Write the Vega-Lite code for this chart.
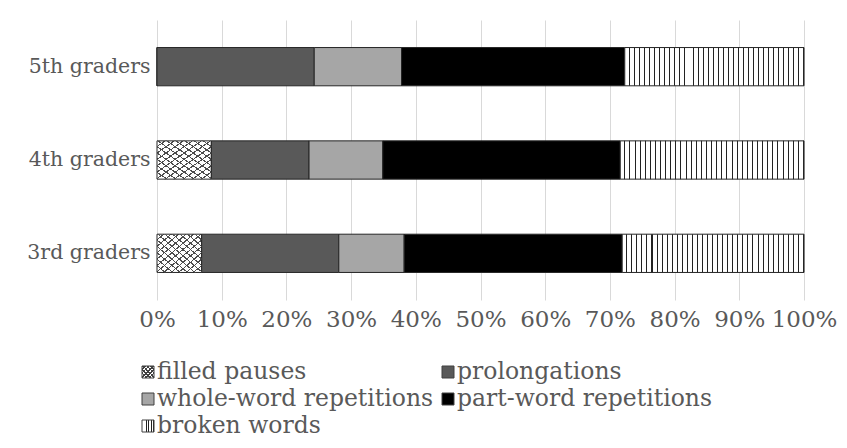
{
  "$schema": "https://vega.github.io/schema/vega-lite/v6.json",
  "autosize": {"type": "none"},
  "width": 647,
  "height": 280,
  "padding": {"left": 157, "top": 20, "right": 43, "bottom": 148},
  "background": "white",
  "config": {"view": {"stroke": null}, "font": "DejaVu Serif"},
  "datasets": {
    "bars": [
      {"grade": "3rd graders", "cat": "filled pauses", "o": 1, "value": 6.9},
      {"grade": "3rd graders", "cat": "prolongations", "o": 2, "value": 21.2},
      {"grade": "3rd graders", "cat": "whole-word repetitions", "o": 3, "value": 10.1},
      {"grade": "3rd graders", "cat": "part-word repetitions", "o": 4, "value": 33.7},
      {"grade": "3rd graders", "cat": "broken words", "o": 5, "value": 28.1},
      {"grade": "4th graders", "cat": "filled pauses", "o": 1, "value": 8.4},
      {"grade": "4th graders", "cat": "prolongations", "o": 2, "value": 15.1},
      {"grade": "4th graders", "cat": "whole-word repetitions", "o": 3, "value": 11.4},
      {"grade": "4th graders", "cat": "part-word repetitions", "o": 4, "value": 36.7},
      {"grade": "4th graders", "cat": "broken words", "o": 5, "value": 28.4},
      {"grade": "5th graders", "cat": "filled pauses", "o": 1, "value": 0},
      {"grade": "5th graders", "cat": "prolongations", "o": 2, "value": 24.3},
      {"grade": "5th graders", "cat": "whole-word repetitions", "o": 3, "value": 13.5},
      {"grade": "5th graders", "cat": "part-word repetitions", "o": 4, "value": 34.5},
      {"grade": "5th graders", "cat": "broken words", "o": 5, "value": 27.7}
    ],
    "legend": [
      {"cat": "filled pauses", "col": 0, "row": 0},
      {"cat": "prolongations", "col": 1, "row": 0},
      {"cat": "whole-word repetitions", "col": 0, "row": 1},
      {"cat": "part-word repetitions", "col": 1, "row": 1},
      {"cat": "broken words", "col": 0, "row": 2}
    ]
  },
  "resolve": {"scale": {"x": "independent", "y": "independent"}},
  "layer": [
    {
      "data": {"name": "bars"},
      "mark": {"type": "bar", "stroke": "#262626", "strokeWidth": 1},
      "encoding": {
        "y": {"field": "grade", "type": "nominal", "sort": ["5th graders", "4th graders", "3rd graders"],
          "scale": {"domain": ["5th graders", "4th graders", "3rd graders"], "paddingInner": 0.59, "paddingOuter": 0.295},
          "axis": {"title": null, "domain": false, "ticks": false, "grid": false, "labelFontSize": 20.5, "labelColor": "#595959", "labelPadding": 7, "labelFont": "DejaVu Serif"}},
        "x": {"field": "value", "type": "quantitative", "stack": "zero",
          "scale": {"domain": [0, 100], "nice": false},
          "axis": {"title": null, "values": [0, 10, 20, 30, 40, 50, 60, 70, 80, 90, 100], "labelExpr": "datum.value + '%'", "domain": false, "ticks": false, "grid": true, "gridColor": "#d9d9d9", "gridWidth": 1, "labelFontSize": 23, "labelColor": "#595959", "labelPadding": 8, "labelFlush": false, "labelOverlap": false, "labelFont": "DejaVu Serif"}},
        "order": {"field": "o", "type": "quantitative"},
        "fill": {
          "condition": [
            {"test": "datum.cat === 'filled pauses'", "value": {"gradient": "linear", "x1": 0, "y1": 0, "x2": 1, "y2": 1, "stops": [
              {"offset": 0, "color": "#ffffff"}, {"offset": 0.0667, "color": "#ffffff"}, {"offset": 0.0667, "color": "#4d4d4d"}, {"offset": 0.0833, "color": "#4d4d4d"},
              {"offset": 0.0833, "color": "#ffffff"}, {"offset": 0.15, "color": "#ffffff"}, {"offset": 0.15, "color": "#4d4d4d"}, {"offset": 0.1667, "color": "#4d4d4d"},
              {"offset": 0.1667, "color": "#ffffff"}, {"offset": 0.2333, "color": "#ffffff"}, {"offset": 0.2333, "color": "#4d4d4d"}, {"offset": 0.25, "color": "#4d4d4d"},
              {"offset": 0.25, "color": "#ffffff"}, {"offset": 0.3167, "color": "#ffffff"}, {"offset": 0.3167, "color": "#4d4d4d"}, {"offset": 0.3333, "color": "#4d4d4d"},
              {"offset": 0.3333, "color": "#ffffff"}, {"offset": 0.4, "color": "#ffffff"}, {"offset": 0.4, "color": "#4d4d4d"}, {"offset": 0.4167, "color": "#4d4d4d"},
              {"offset": 0.4167, "color": "#ffffff"}, {"offset": 0.4833, "color": "#ffffff"}, {"offset": 0.4833, "color": "#4d4d4d"}, {"offset": 0.5, "color": "#4d4d4d"},
              {"offset": 0.5, "color": "#ffffff"}, {"offset": 0.5667, "color": "#ffffff"}, {"offset": 0.5667, "color": "#4d4d4d"}, {"offset": 0.5833, "color": "#4d4d4d"},
              {"offset": 0.5833, "color": "#ffffff"}, {"offset": 0.65, "color": "#ffffff"}, {"offset": 0.65, "color": "#4d4d4d"}, {"offset": 0.6667, "color": "#4d4d4d"},
              {"offset": 0.6667, "color": "#ffffff"}, {"offset": 0.7333, "color": "#ffffff"}, {"offset": 0.7333, "color": "#4d4d4d"}, {"offset": 0.75, "color": "#4d4d4d"},
              {"offset": 0.75, "color": "#ffffff"}, {"offset": 0.8167, "color": "#ffffff"}, {"offset": 0.8167, "color": "#4d4d4d"}, {"offset": 0.8333, "color": "#4d4d4d"},
              {"offset": 0.8333, "color": "#ffffff"}, {"offset": 0.9, "color": "#ffffff"}, {"offset": 0.9, "color": "#4d4d4d"}, {"offset": 0.9167, "color": "#4d4d4d"},
              {"offset": 0.9167, "color": "#ffffff"}, {"offset": 0.9833, "color": "#ffffff"}, {"offset": 0.9833, "color": "#4d4d4d"}, {"offset": 1, "color": "#4d4d4d"}
            ]}},
            {"test": "datum.cat === 'broken words'", "value": {"gradient": "linear", "x1": 0, "y1": 0, "x2": 1, "y2": 0, "stops": [
              {"offset": 0, "color": "#ffffff"}, {"offset": 0.0222, "color": "#ffffff"}, {"offset": 0.0222, "color": "#222222"}, {"offset": 0.0278, "color": "#222222"},
              {"offset": 0.0278, "color": "#ffffff"}, {"offset": 0.05, "color": "#ffffff"}, {"offset": 0.05, "color": "#222222"}, {"offset": 0.0556, "color": "#222222"},
              {"offset": 0.0556, "color": "#ffffff"}, {"offset": 0.0778, "color": "#ffffff"}, {"offset": 0.0778, "color": "#222222"}, {"offset": 0.0833, "color": "#222222"},
              {"offset": 0.0833, "color": "#ffffff"}, {"offset": 0.1056, "color": "#ffffff"}, {"offset": 0.1056, "color": "#222222"}, {"offset": 0.1111, "color": "#222222"},
              {"offset": 0.1111, "color": "#ffffff"}, {"offset": 0.1333, "color": "#ffffff"}, {"offset": 0.1333, "color": "#222222"}, {"offset": 0.1389, "color": "#222222"},
              {"offset": 0.1389, "color": "#ffffff"}, {"offset": 0.1611, "color": "#ffffff"}, {"offset": 0.1611, "color": "#222222"}, {"offset": 0.1667, "color": "#222222"},
              {"offset": 0.1667, "color": "#ffffff"}, {"offset": 0.1889, "color": "#ffffff"}, {"offset": 0.1889, "color": "#222222"}, {"offset": 0.1944, "color": "#222222"},
              {"offset": 0.1944, "color": "#ffffff"}, {"offset": 0.2167, "color": "#ffffff"}, {"offset": 0.2167, "color": "#222222"}, {"offset": 0.2222, "color": "#222222"},
              {"offset": 0.2222, "color": "#ffffff"}, {"offset": 0.2444, "color": "#ffffff"}, {"offset": 0.2444, "color": "#222222"}, {"offset": 0.25, "color": "#222222"},
              {"offset": 0.25, "color": "#ffffff"}, {"offset": 0.2722, "color": "#ffffff"}, {"offset": 0.2722, "color": "#222222"}, {"offset": 0.2778, "color": "#222222"},
              {"offset": 0.2778, "color": "#ffffff"}, {"offset": 0.3, "color": "#ffffff"}, {"offset": 0.3, "color": "#222222"}, {"offset": 0.3056, "color": "#222222"},
              {"offset": 0.3056, "color": "#ffffff"}, {"offset": 0.3278, "color": "#ffffff"}, {"offset": 0.3278, "color": "#222222"}, {"offset": 0.3333, "color": "#222222"},
              {"offset": 0.3333, "color": "#ffffff"}, {"offset": 0.3556, "color": "#ffffff"}, {"offset": 0.3556, "color": "#222222"}, {"offset": 0.3611, "color": "#222222"},
              {"offset": 0.3611, "color": "#ffffff"}, {"offset": 0.3833, "color": "#ffffff"}, {"offset": 0.3833, "color": "#222222"}, {"offset": 0.3889, "color": "#222222"},
              {"offset": 0.3889, "color": "#ffffff"}, {"offset": 0.4111, "color": "#ffffff"}, {"offset": 0.4111, "color": "#222222"}, {"offset": 0.4167, "color": "#222222"},
              {"offset": 0.4167, "color": "#ffffff"}, {"offset": 0.4389, "color": "#ffffff"}, {"offset": 0.4389, "color": "#222222"}, {"offset": 0.4444, "color": "#222222"},
              {"offset": 0.4444, "color": "#ffffff"}, {"offset": 0.4667, "color": "#ffffff"}, {"offset": 0.4667, "color": "#222222"}, {"offset": 0.4722, "color": "#222222"},
              {"offset": 0.4722, "color": "#ffffff"}, {"offset": 0.4944, "color": "#ffffff"}, {"offset": 0.4944, "color": "#222222"}, {"offset": 0.5, "color": "#222222"},
              {"offset": 0.5, "color": "#ffffff"}, {"offset": 0.5222, "color": "#ffffff"}, {"offset": 0.5222, "color": "#222222"}, {"offset": 0.5278, "color": "#222222"},
              {"offset": 0.5278, "color": "#ffffff"}, {"offset": 0.55, "color": "#ffffff"}, {"offset": 0.55, "color": "#222222"}, {"offset": 0.5556, "color": "#222222"},
              {"offset": 0.5556, "color": "#ffffff"}, {"offset": 0.5778, "color": "#ffffff"}, {"offset": 0.5778, "color": "#222222"}, {"offset": 0.5833, "color": "#222222"},
              {"offset": 0.5833, "color": "#ffffff"}, {"offset": 0.6056, "color": "#ffffff"}, {"offset": 0.6056, "color": "#222222"}, {"offset": 0.6111, "color": "#222222"},
              {"offset": 0.6111, "color": "#ffffff"}, {"offset": 0.6333, "color": "#ffffff"}, {"offset": 0.6333, "color": "#222222"}, {"offset": 0.6389, "color": "#222222"},
              {"offset": 0.6389, "color": "#ffffff"}, {"offset": 0.6611, "color": "#ffffff"}, {"offset": 0.6611, "color": "#222222"}, {"offset": 0.6667, "color": "#222222"},
              {"offset": 0.6667, "color": "#ffffff"}, {"offset": 0.6889, "color": "#ffffff"}, {"offset": 0.6889, "color": "#222222"}, {"offset": 0.6944, "color": "#222222"},
              {"offset": 0.6944, "color": "#ffffff"}, {"offset": 0.7167, "color": "#ffffff"}, {"offset": 0.7167, "color": "#222222"}, {"offset": 0.7222, "color": "#222222"},
              {"offset": 0.7222, "color": "#ffffff"}, {"offset": 0.7444, "color": "#ffffff"}, {"offset": 0.7444, "color": "#222222"}, {"offset": 0.75, "color": "#222222"},
              {"offset": 0.75, "color": "#ffffff"}, {"offset": 0.7722, "color": "#ffffff"}, {"offset": 0.7722, "color": "#222222"}, {"offset": 0.7778, "color": "#222222"},
              {"offset": 0.7778, "color": "#ffffff"}, {"offset": 0.8, "color": "#ffffff"}, {"offset": 0.8, "color": "#222222"}, {"offset": 0.8056, "color": "#222222"},
              {"offset": 0.8056, "color": "#ffffff"}, {"offset": 0.8278, "color": "#ffffff"}, {"offset": 0.8278, "color": "#222222"}, {"offset": 0.8333, "color": "#222222"},
              {"offset": 0.8333, "color": "#ffffff"}, {"offset": 0.8556, "color": "#ffffff"}, {"offset": 0.8556, "color": "#222222"}, {"offset": 0.8611, "color": "#222222"},
              {"offset": 0.8611, "color": "#ffffff"}, {"offset": 0.8833, "color": "#ffffff"}, {"offset": 0.8833, "color": "#222222"}, {"offset": 0.8889, "color": "#222222"},
              {"offset": 0.8889, "color": "#ffffff"}, {"offset": 0.9111, "color": "#ffffff"}, {"offset": 0.9111, "color": "#222222"}, {"offset": 0.9167, "color": "#222222"},
              {"offset": 0.9167, "color": "#ffffff"}, {"offset": 0.9389, "color": "#ffffff"}, {"offset": 0.9389, "color": "#222222"}, {"offset": 0.9444, "color": "#222222"},
              {"offset": 0.9444, "color": "#ffffff"}, {"offset": 0.9667, "color": "#ffffff"}, {"offset": 0.9667, "color": "#222222"}, {"offset": 0.9722, "color": "#222222"},
              {"offset": 0.9722, "color": "#ffffff"}, {"offset": 0.9944, "color": "#ffffff"}, {"offset": 0.9944, "color": "#222222"}, {"offset": 1, "color": "#222222"}
            ]}}
          ],
          "field": "cat", "type": "nominal",
          "scale": {"domain": ["filled pauses", "prolongations", "whole-word repetitions", "part-word repetitions", "broken words"], "range": ["#ffffff", "#595959", "#a6a6a6", "#000000", "#ffffff"]},
          "legend": null
        }
      }
    },
    {
      "data": {"name": "bars"},
      "transform": [{"filter": "datum.cat === 'filled pauses'"}],
      "mark": {"type": "bar", "strokeWidth": 0},
      "encoding": {
        "y": {"field": "grade", "type": "nominal", "scale": {"domain": ["5th graders", "4th graders", "3rd graders"], "paddingInner": 0.59, "paddingOuter": 0.295}, "axis": null},
        "x": {"field": "value", "type": "quantitative", "stack": null, "scale": {"domain": [0, 100], "nice": false}, "axis": null},
        "fill": {"value": {"gradient": "linear", "x1": 1, "y1": 0, "x2": 0, "y2": 1, "stops": [
          {"offset": 0, "color": "rgba(255,255,255,0)"}, {"offset": 0.0667, "color": "rgba(255,255,255,0)"}, {"offset": 0.0667, "color": "#4d4d4d"}, {"offset": 0.0833, "color": "#4d4d4d"},
          {"offset": 0.0833, "color": "rgba(255,255,255,0)"}, {"offset": 0.15, "color": "rgba(255,255,255,0)"}, {"offset": 0.15, "color": "#4d4d4d"}, {"offset": 0.1667, "color": "#4d4d4d"},
          {"offset": 0.1667, "color": "rgba(255,255,255,0)"}, {"offset": 0.2333, "color": "rgba(255,255,255,0)"}, {"offset": 0.2333, "color": "#4d4d4d"}, {"offset": 0.25, "color": "#4d4d4d"},
          {"offset": 0.25, "color": "rgba(255,255,255,0)"}, {"offset": 0.3167, "color": "rgba(255,255,255,0)"}, {"offset": 0.3167, "color": "#4d4d4d"}, {"offset": 0.3333, "color": "#4d4d4d"},
          {"offset": 0.3333, "color": "rgba(255,255,255,0)"}, {"offset": 0.4, "color": "rgba(255,255,255,0)"}, {"offset": 0.4, "color": "#4d4d4d"}, {"offset": 0.4167, "color": "#4d4d4d"},
          {"offset": 0.4167, "color": "rgba(255,255,255,0)"}, {"offset": 0.4833, "color": "rgba(255,255,255,0)"}, {"offset": 0.4833, "color": "#4d4d4d"}, {"offset": 0.5, "color": "#4d4d4d"},
          {"offset": 0.5, "color": "rgba(255,255,255,0)"}, {"offset": 0.5667, "color": "rgba(255,255,255,0)"}, {"offset": 0.5667, "color": "#4d4d4d"}, {"offset": 0.5833, "color": "#4d4d4d"},
          {"offset": 0.5833, "color": "rgba(255,255,255,0)"}, {"offset": 0.65, "color": "rgba(255,255,255,0)"}, {"offset": 0.65, "color": "#4d4d4d"}, {"offset": 0.6667, "color": "#4d4d4d"},
          {"offset": 0.6667, "color": "rgba(255,255,255,0)"}, {"offset": 0.7333, "color": "rgba(255,255,255,0)"}, {"offset": 0.7333, "color": "#4d4d4d"}, {"offset": 0.75, "color": "#4d4d4d"},
          {"offset": 0.75, "color": "rgba(255,255,255,0)"}, {"offset": 0.8167, "color": "rgba(255,255,255,0)"}, {"offset": 0.8167, "color": "#4d4d4d"}, {"offset": 0.8333, "color": "#4d4d4d"},
          {"offset": 0.8333, "color": "rgba(255,255,255,0)"}, {"offset": 0.9, "color": "rgba(255,255,255,0)"}, {"offset": 0.9, "color": "#4d4d4d"}, {"offset": 0.9167, "color": "#4d4d4d"},
          {"offset": 0.9167, "color": "rgba(255,255,255,0)"}, {"offset": 0.9833, "color": "rgba(255,255,255,0)"}, {"offset": 0.9833, "color": "#4d4d4d"}, {"offset": 1, "color": "#4d4d4d"}
        ]}}
      }
    },
    {
      "data": {"name": "legend"},
      "mark": {"type": "point", "shape": "square", "filled": true, "size": 144, "stroke": "#404040", "strokeWidth": 1, "opacity": 1},
      "encoding": {
        "x": {"field": "col", "type": "quantitative", "scale": {"domain": [0, 1], "range": [-9, 291]}, "axis": null},
        "y": {"field": "row", "type": "quantitative", "scale": {"domain": [0, 2], "range": [352, 406]}, "axis": null},
        "fill": {
          "condition": [
            {"test": "datum.cat === 'filled pauses'", "value": {"gradient": "linear", "x1": 0, "y1": 0, "x2": 1, "y2": 1, "stops": [
              {"offset": 0, "color": "#ffffff"}, {"offset": 0.12, "color": "#ffffff"}, {"offset": 0.12, "color": "#404040"}, {"offset": 0.1667, "color": "#404040"},
              {"offset": 0.1667, "color": "#ffffff"}, {"offset": 0.2867, "color": "#ffffff"}, {"offset": 0.2867, "color": "#404040"}, {"offset": 0.3333, "color": "#404040"},
              {"offset": 0.3333, "color": "#ffffff"}, {"offset": 0.4533, "color": "#ffffff"}, {"offset": 0.4533, "color": "#404040"}, {"offset": 0.5, "color": "#404040"},
              {"offset": 0.5, "color": "#ffffff"}, {"offset": 0.62, "color": "#ffffff"}, {"offset": 0.62, "color": "#404040"}, {"offset": 0.6667, "color": "#404040"},
              {"offset": 0.6667, "color": "#ffffff"}, {"offset": 0.7867, "color": "#ffffff"}, {"offset": 0.7867, "color": "#404040"}, {"offset": 0.8333, "color": "#404040"},
              {"offset": 0.8333, "color": "#ffffff"}, {"offset": 0.9533, "color": "#ffffff"}, {"offset": 0.9533, "color": "#404040"}, {"offset": 1, "color": "#404040"}
            ]}},
            {"test": "datum.cat === 'broken words'", "value": {"gradient": "linear", "x1": 0, "y1": 0, "x2": 1, "y2": 0, "stops": [
              {"offset": 0, "color": "#ffffff"}, {"offset": 0.13, "color": "#ffffff"}, {"offset": 0.13, "color": "#222222"}, {"offset": 0.2, "color": "#222222"},
              {"offset": 0.2, "color": "#ffffff"}, {"offset": 0.33, "color": "#ffffff"}, {"offset": 0.33, "color": "#222222"}, {"offset": 0.4, "color": "#222222"},
              {"offset": 0.4, "color": "#ffffff"}, {"offset": 0.53, "color": "#ffffff"}, {"offset": 0.53, "color": "#222222"}, {"offset": 0.6, "color": "#222222"},
              {"offset": 0.6, "color": "#ffffff"}, {"offset": 0.73, "color": "#ffffff"}, {"offset": 0.73, "color": "#222222"}, {"offset": 0.8, "color": "#222222"},
              {"offset": 0.8, "color": "#ffffff"}, {"offset": 0.93, "color": "#ffffff"}, {"offset": 0.93, "color": "#222222"}, {"offset": 1, "color": "#222222"}
            ]}}
          ],
          "field": "cat", "type": "nominal", "legend": null
        }
      }
    },
    {
      "data": {"name": "legend"},
      "transform": [{"filter": "datum.cat === 'filled pauses'"}],
      "mark": {"type": "point", "shape": "square", "filled": true, "size": 144, "strokeWidth": 0, "opacity": 1},
      "encoding": {
        "x": {"field": "col", "type": "quantitative", "scale": {"domain": [0, 1], "range": [-9, 291]}, "axis": null},
        "y": {"field": "row", "type": "quantitative", "scale": {"domain": [0, 2], "range": [352, 406]}, "axis": null},
        "fill": {"value": {"gradient": "linear", "x1": 1, "y1": 0, "x2": 0, "y2": 1, "stops": [
          {"offset": 0, "color": "rgba(255,255,255,0)"}, {"offset": 0.12, "color": "rgba(255,255,255,0)"}, {"offset": 0.12, "color": "#404040"}, {"offset": 0.1667, "color": "#404040"},
          {"offset": 0.1667, "color": "rgba(255,255,255,0)"}, {"offset": 0.2867, "color": "rgba(255,255,255,0)"}, {"offset": 0.2867, "color": "#404040"}, {"offset": 0.3333, "color": "#404040"},
          {"offset": 0.3333, "color": "rgba(255,255,255,0)"}, {"offset": 0.4533, "color": "rgba(255,255,255,0)"}, {"offset": 0.4533, "color": "#404040"}, {"offset": 0.5, "color": "#404040"},
          {"offset": 0.5, "color": "rgba(255,255,255,0)"}, {"offset": 0.62, "color": "rgba(255,255,255,0)"}, {"offset": 0.62, "color": "#404040"}, {"offset": 0.6667, "color": "#404040"},
          {"offset": 0.6667, "color": "rgba(255,255,255,0)"}, {"offset": 0.7867, "color": "rgba(255,255,255,0)"}, {"offset": 0.7867, "color": "#404040"}, {"offset": 0.8333, "color": "#404040"},
          {"offset": 0.8333, "color": "rgba(255,255,255,0)"}, {"offset": 0.9533, "color": "rgba(255,255,255,0)"}, {"offset": 0.9533, "color": "#404040"}, {"offset": 1, "color": "#404040"}
        ]}}
      }
    },
    {
      "data": {"name": "legend"},
      "mark": {"type": "text", "align": "left", "baseline": "middle", "dx": 9, "fontSize": 23.5, "font": "DejaVu Serif", "fill": "#595959"},
      "encoding": {
        "x": {"field": "col", "type": "quantitative", "scale": {"domain": [0, 1], "range": [-9, 291]}, "axis": null},
        "y": {"field": "row", "type": "quantitative", "scale": {"domain": [0, 2], "range": [352, 406]}, "axis": null},
        "text": {"field": "cat"}
      }
    }
  ]
}
